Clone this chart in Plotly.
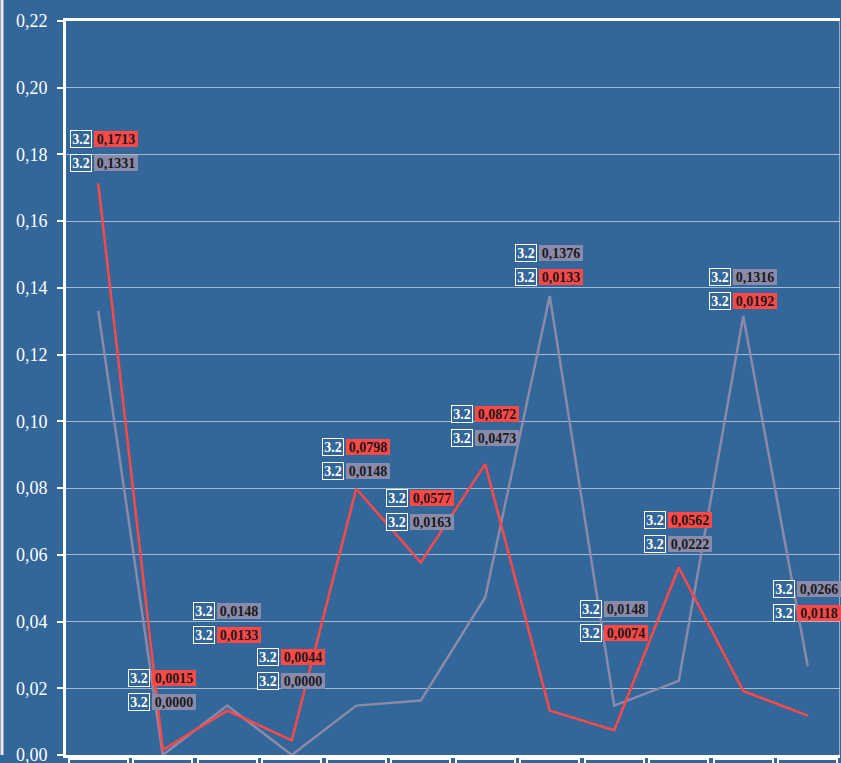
import plotly.graph_objects as go

categories = ["1", "2", "3", "4", "5", "6", "7", "8", "9", "10", "11", "12"]
red_values = [0.1713, 0.0015, 0.0133, 0.0044, 0.0798, 0.0577, 0.0872, 0.0133, 0.0074, 0.0562, 0.0192, 0.0118]
grey_values = [0.1331, 0.0000, 0.0148, 0.0000, 0.0148, 0.0163, 0.0473, 0.1376, 0.0148, 0.0222, 0.1316, 0.0266]
series_tag = "3.2"
# pixel lift of the lower label above the higher point, per category (layout only)
label_lift = [20, 48, 71, 59, 18, 40, 26, 19, 73, 24, 15, 53]

BG = "#336699"
RED = "#ff4848"
GREY = "#8a8aaa"
W, H = 841, 763
ML, MR, MT, MB = 66, 1, 21, 8
plot_w = W - ML - MR
n = len(categories)

def fmt(v):
    return f"{v:.4f}".replace(".", ",")

fig = go.Figure()
fig.add_trace(go.Scatter(x=list(range(n)), y=grey_values, mode="lines",
                         line=dict(color=GREY, width=2.5), hoverinfo="skip"))
fig.add_trace(go.Scatter(x=list(range(n)), y=red_values, mode="lines",
                         line=dict(color=RED, width=2.5), hoverinfo="skip"))

annotations = []
for i in range(n):
    r, g = red_values[i], grey_values[i]
    hi = max(r, g)
    if r >= g:
        top, bottom = (r, RED), (g, GREY)
    else:
        top, bottom = (g, GREY), (r, RED)
    px = ML + (i + 0.5) * plot_w / n
    center = px - 1.5
    left = max(center - 33, ML + 4)
    center = left + 33
    for k, (val, col) in enumerate([bottom, top]):
        ys = label_lift[i] + 24 * k
        annotations.append(dict(
            x=i, y=hi, xref="x", yref="y", text="<b>" + series_tag + "</b>",
            showarrow=False, xanchor="right", yanchor="middle",
            xshift=(center - 11) - px, yshift=ys,
            font=dict(family="Liberation Serif", size=14, color="white"),
            bgcolor=BG, bordercolor="white", borderwidth=1, borderpad=1,
            width=18, height=14))
        annotations.append(dict(
            x=i, y=hi, xref="x", yref="y", text="<b>" + fmt(val) + "</b>",
            showarrow=False, xanchor="left", yanchor="middle",
            xshift=(center - 9) - px, yshift=ys,
            font=dict(family="Liberation Serif", size=14, color="#1a1a1a"),
            bgcolor=col, borderwidth=0, borderpad=1,
            width=42, height=14))
    # empty category boxes under the axis
    annotations.append(dict(
        x=i, y=0, xref="x", yref="y", text=" ", showarrow=False,
        xanchor="center", yanchor="top", yshift=-3,
        font=dict(family="Liberation Serif", size=14, color="white"),
        bordercolor="white", borderwidth=2, borderpad=0, width=57, height=50))

shapes = [
    dict(type="line", xref="paper", yref="paper",
         x0=(2 - ML) / plot_w, x1=(2 - ML) / plot_w, y0=0, y1=1 + MT / (H - MT - MB),
         line=dict(color="#f2e4ea", width=3)),
    dict(type="line", xref="paper", yref="paper",
         x0=(W - 1.5 - ML) / plot_w, x1=(W - 1.5 - ML) / plot_w, y0=0, y1=1,
         line=dict(color="rgba(190,210,235,0.7)", width=1)),
]

fig.update_layout(
    width=W, height=H,
    margin=dict(l=ML, r=MR, t=MT, b=MB, pad=0),
    paper_bgcolor=BG, plot_bgcolor=BG,
    separators=",.",
    showlegend=False,
    annotations=annotations,
    shapes=shapes,
    xaxis=dict(range=[-0.5, n - 0.5], showgrid=False, zeroline=False,
               showticklabels=False, ticks="", showline=True, linecolor="white",
               linewidth=3, mirror=True, fixedrange=True, automargin=False),
    yaxis=dict(range=[0, 0.22], dtick=0.02, tickformat=".2f", showgrid=True,
               gridcolor="rgba(255,255,255,0.55)", gridwidth=1, zeroline=False,
               showline=True, linecolor="white", linewidth=3, ticks="outside",
               ticklen=6, tickwidth=2, tickcolor="white", ticklabelstandoff=6,
               ticklabeloverflow="allow", automargin=False,
               tickfont=dict(family="Liberation Serif", size=18, color="white"),
               fixedrange=True),
)

fig.write_html("out.html", config={"displayModeBar": False})
with open("out.html", "r", encoding="utf-8") as f:
    html = f.read()
html = html.replace("<body>", '<body style="margin:0;padding:0;overflow:hidden;background:#336699">', 1)
html = html.replace("<head>", '<head><style>html,body{margin:0;padding:0;}</style>', 1)
with open("out.html", "w", encoding="utf-8") as f:
    f.write(html)
